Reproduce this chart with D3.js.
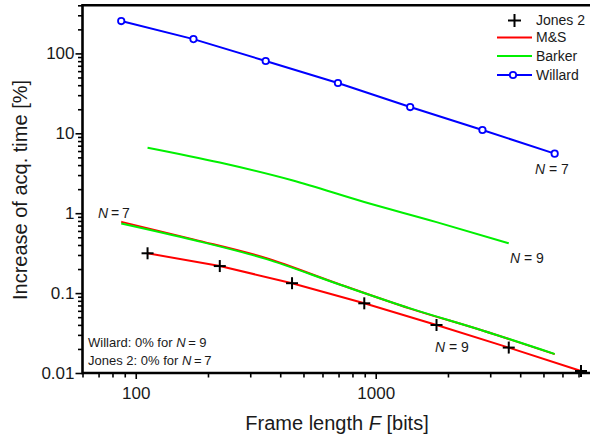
<!DOCTYPE html>
<html>
<head>
<meta charset="utf-8">
<script src="https://cdn.jsdelivr.net/npm/d3@7"></script>
<style>
  html, body { margin: 0; padding: 0; background: #fff; }
  svg { display: block; font-family: Arial, "Liberation Sans", sans-serif; }
</style>
</head>
<body>
<svg id="chart" width="590" height="437"></svg>
<script>
// Frame lengths [bits]
const fWillard = [87, 174, 348, 696, 1392, 2784, 5568];
const fJones = [112, 224, 448, 896, 1792, 3584, 7168];
const fBarkerN9 = [112, 224, 448, 896, 1792, 3584];

// Increase of acquisition time [%]
const willardN7 = [254, 151, 80.3, 42.6, 21.3, 11.0, 5.56];
const jones2N9 = [0.315, 0.218, 0.133, 0.0745, 0.0399, 0.0208, 0.0106];
const msN9 = [0.315, 0.218, 0.133, 0.0745, 0.0399, 0.0208, 0.0106];
const msN7 = [0.78, 0.47, 0.275, 0.131, 0.064, 0.034, 0.0172];
const barkerN7 = [0.745, 0.462, 0.268, 0.130, 0.0644, 0.0341, 0.0173];
const barkerN9 = [6.6, 4.3, 2.58, 1.38, 0.774, 0.42];

// Axis ticks
const yMajor = [0.01, 0.1, 1, 10, 100];
const yMajorLabels = ["0.01", "0.1", "1", "10", "100"];
const xMajor = [100, 1000];
const xMajorLabels = ["100", "1000"];

const svg = d3.select("#chart");
const x = d3.scaleLog().domain([60, 10000]).range([82.5, 615.7]);
const y = d3.scaleLog().domain([0.01, 400]).range([373, 5.3]);

const minorOf = (lo, hi) => {
  const out = [];
  for (let e = Math.floor(Math.log10(lo)); e <= Math.ceil(Math.log10(hi)); e++) {
    for (let m = 2; m <= 9; m++) {
      const v = m * Math.pow(10, e);
      if (v >= lo && v <= hi) out.push(+v.toPrecision(3));
    }
  }
  return out;
};
const yMinor = minorOf(0.01, 400);
const xMinor = minorOf(60, 10000);

const textColor = "#1a1a1a";

// Y axis: minor then major ticks
const gy = svg.append("g").attr("transform", `translate(${x.range()[0]},0)`);
gy.append("g").call(d3.axisLeft(y).tickValues(yMinor).tickSize(4.5).tickSizeOuter(0).tickFormat(""));
gy.append("g").call(d3.axisLeft(y).tickValues(yMajor).tickSize(7).tickSizeOuter(0).tickPadding(1)
  .tickFormat((d, i) => yMajorLabels[i]));
gy.selectAll(".domain").remove();
gy.selectAll(".tick line").attr("stroke", "#000").attr("stroke-width", 1.6);
gy.selectAll(".tick text").attr("font-size", 17).attr("fill", textColor)
  .attr("font-family", "Arial, 'Liberation Sans', sans-serif");

// X axis
const gx = svg.append("g").attr("transform", `translate(0,${y.range()[0]})`);
gx.append("g").call(d3.axisBottom(x).tickValues(xMinor).tickSize(4.5).tickSizeOuter(0).tickFormat(""));
gx.append("g").call(d3.axisBottom(x).tickValues(xMajor).tickSize(6).tickSizeOuter(0).tickPadding(8)
  .tickFormat((d, i) => xMajorLabels[i]));
gx.selectAll(".domain").remove();
gx.selectAll(".tick line").attr("stroke", "#000").attr("stroke-width", 1.6);
gx.selectAll(".tick text").attr("font-size", 17).attr("fill", textColor)
  .attr("font-family", "Arial, 'Liberation Sans', sans-serif");

// Frame lines
const x0 = x.range()[0], yb = y.range()[0], yt = y.range()[1];
svg.append("line").attr("x1", x0).attr("x2", 590).attr("y1", yb).attr("y2", yb)
  .attr("stroke", "#000").attr("stroke-width", 2.6);
svg.append("line").attr("x1", x0).attr("x2", x0).attr("y1", yt - 1.3).attr("y2", yb + 1.3)
  .attr("stroke", "#000").attr("stroke-width", 2.6);
svg.append("line").attr("x1", x0).attr("x2", 590).attr("y1", yt).attr("y2", yt)
  .attr("stroke", "#000").attr("stroke-width", 2.6);

// Series
const zip = (fs, vs) => fs.map((f, i) => [f, vs[i]]);
const smooth = d3.line().x(d => x(d[0])).y(d => y(d[1])).curve(d3.curveMonotoneX);
const straight = d3.line().x(d => x(d[0])).y(d => y(d[1]));

const red = "#ff0000", green = "#00f000", blue = "#0000ff";

svg.append("path").attr("d", smooth(zip(fWillard, msN7)))
  .attr("fill", "none").attr("stroke", red).attr("stroke-width", 2);
svg.append("path").attr("d", straight(zip(fJones, msN9)))
  .attr("fill", "none").attr("stroke", red).attr("stroke-width", 2);
svg.append("path").attr("d", smooth(zip(fWillard, barkerN7)))
  .attr("fill", "none").attr("stroke", green).attr("stroke-width", 2);
svg.append("path").attr("d", smooth(zip(fBarkerN9, barkerN9)))
  .attr("fill", "none").attr("stroke", green).attr("stroke-width", 2);
svg.append("path").attr("d", straight(zip(fWillard, willardN7)))
  .attr("fill", "none").attr("stroke", blue).attr("stroke-width", 2);

svg.append("g").selectAll("circle").data(zip(fWillard, willardN7)).join("circle")
  .attr("cx", d => x(d[0])).attr("cy", d => y(d[1])).attr("r", 3.2)
  .attr("fill", "#fff").attr("stroke", blue).attr("stroke-width", 1.8);

const plus = (g, cx, cy, s) => {
  g.append("line").attr("x1", cx - s).attr("x2", cx + s).attr("y1", cy).attr("y2", cy);
  g.append("line").attr("x1", cx).attr("x2", cx).attr("y1", cy - s).attr("y2", cy + s);
};
const gj = svg.append("g").attr("stroke", "#000").attr("stroke-width", 2);
zip(fJones, jones2N9).forEach(d => plus(gj, x(d[0]), y(d[1]), 6));

// Legend
const lg = svg.append("g").attr("font-size", 14).attr("fill", textColor);
const lx1 = 497, lx2 = 532, tx = 536;
const gl = lg.append("g").attr("stroke", "#000").attr("stroke-width", 2);
plus(gl, 514.5, 20.5, 6.5);
lg.append("text").attr("x", tx).attr("y", 20.5).attr("dy", "0.35em").text("Jones 2");
lg.append("line").attr("x1", lx1).attr("x2", lx2).attr("y1", 37.5).attr("y2", 37.5)
  .attr("stroke", red).attr("stroke-width", 2);
lg.append("text").attr("x", tx).attr("y", 37.5).attr("dy", "0.35em").text("M&S");
lg.append("line").attr("x1", lx1).attr("x2", lx2).attr("y1", 56).attr("y2", 56)
  .attr("stroke", green).attr("stroke-width", 2);
lg.append("text").attr("x", tx).attr("y", 56).attr("dy", "0.35em").text("Barker");
lg.append("line").attr("x1", lx1).attr("x2", lx2).attr("y1", 75).attr("y2", 75)
  .attr("stroke", blue).attr("stroke-width", 2);
lg.append("circle").attr("cx", 513).attr("cy", 75).attr("r", 3.2)
  .attr("fill", "#fff").attr("stroke", blue).attr("stroke-width", 1.8);
lg.append("text").attr("x", tx).attr("y", 75).attr("dy", "0.35em").text("Willard");

// N annotations
const nLabel = (px, py, sep, n, size) => {
  const t = svg.append("text").attr("x", px).attr("y", py).attr("dy", "0.35em")
    .attr("font-size", size).attr("fill", textColor);
  t.append("tspan").attr("font-style", "italic").text("N");
  t.append("tspan").text(sep + n);
};
nLabel(98, 213.5, "\u2009=\u2009", "7", 14);
nLabel(535, 169.5, " = ", "7", 14);
nLabel(510, 258.5, " = ", "9", 14);
nLabel(435, 347, " = ", "9", 14);

// Notes
const note = (px, py, pre, sep, n) => {
  const t = svg.append("text").attr("x", px).attr("y", py).attr("dy", "0.35em")
    .attr("font-size", 13).attr("fill", textColor);
  t.append("tspan").text(pre);
  t.append("tspan").attr("font-style", "italic").text("N");
  t.append("tspan").text(sep + n);
};
note(88, 342, "Willard: 0% for ", "\u2009= ", "9");
note(88, 360, "Jones 2: 0% for ", "\u2009=\u2009", "7");

// Axis titles
const xt = svg.append("text").attr("x", 337).attr("y", 430).attr("text-anchor", "middle")
  .attr("font-size", 20).attr("fill", textColor);
xt.append("tspan").text("Frame length ");
xt.append("tspan").attr("font-style", "italic").text("F");
xt.append("tspan").text(" [bits]");

svg.append("text").attr("transform", "translate(27,190) rotate(-90)")
  .attr("text-anchor", "middle").attr("font-size", 20).attr("fill", textColor)
  .text("Increase of acq. time [%]");
</script>
</body>
</html>
